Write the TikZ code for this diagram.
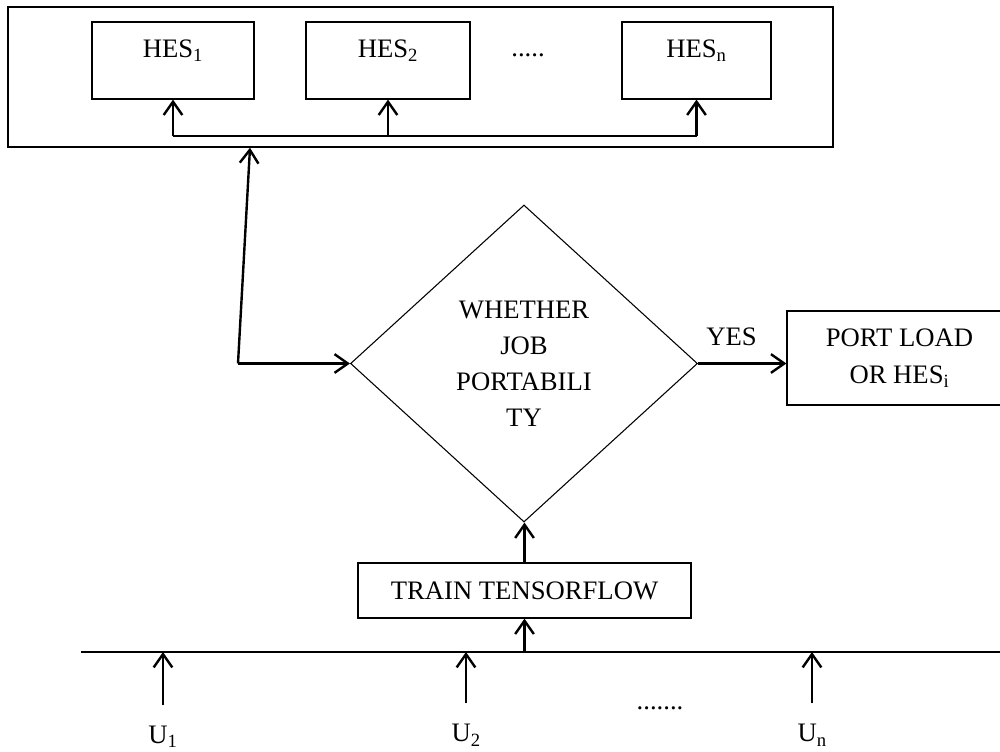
\documentclass[tikz,border=0pt]{standalone}
\usepackage{fontspec}
\setmainfont{Liberation Serif}
\usetikzlibrary{arrows.meta,shapes.geometric,positioning}

\tikzset{
  box/.style={draw, line width=0.9pt, inner sep=0pt},
  txt/.style={inner sep=0pt, font=\fontsize{20}{24}\selectfont},
  arr/.style={line width=1.8pt, -{Straight Barb[length=10pt,width=14pt]}},
  bus/.style={line width=1.8pt},
}

\begin{document}
\begin{tikzpicture}[x=0.75pt,y=0.75pt,yscale=-1,xscale=1]
    \useasboundingbox (0,0) rectangle (1000,751);

    %HES group [outer box]
    \node [box, line width=1.1pt, minimum width=618.75pt, minimum height=105pt] (hesgroup) at (420.5,77) {};
    \node [box, minimum width=121.5pt, minimum height=57.75pt] (hes1) at (173,60.5) {};
    \node [box, minimum width=123pt, minimum height=57.75pt] (hes2) at (388,60.5) {};
    \node [box, minimum width=111.75pt, minimum height=57.75pt] (hesn) at (696.5,60.5) {};
    % Text Node
    \node [txt] (hes1txt) at (173,51) {HES\textsubscript{1}};
    % Text Node
    \node [txt] (hes2txt) at (388,51) {HES\textsubscript{2}};
    % Text Node
    \node [txt] (hesntxt) at (696.5,51) {HES\textsubscript{n}};
    % Text Node
    \node [txt] (dotstop) at (528,55) {.....};

    %Decision
    \node [diamond, draw, line width=0.8pt, inner sep=0pt, minimum width=260.25pt, minimum height=237.75pt, align=center, font=\fontsize{20}{27}\selectfont] (whether) at (524,363.5) {WHETHER\\JOB\\PORTABILI\\TY};
    \node [box, txt, align=center, font=\fontsize{20}{28}\selectfont, minimum width=168.75pt, minimum height=70.5pt] (port) at (899.5,358) {PORT LOAD\\OR HES\textsubscript{i}};
    \node [box, txt, minimum width=249.75pt, minimum height=41.25pt] (train) at (524.5,590.5) {TRAIN TENSORFLOW};

    %Users
    \node [txt, anchor=base] (u1) at (163,743) {U\textsubscript{1}};
    \node [txt, anchor=base] (u2) at (466,741) {U\raisebox{-4pt}{\fontsize{14}{14}\selectfont 2}};
    \node [txt, anchor=base] (un) at (812,741) {U\raisebox{-4pt}{\fontsize{14}{14}\selectfont n}};
    % Text Node
    \node [txt] (dotsbot) at (660,708) {.......};

    \coordinate (topbus) at (0,136);
    \coordinate (fork) at (238,363.5);
    \coordinate (hesin) at (250,0);
    \coordinate (busL) at (81,652);
    \coordinate (busR) at (1000,652);

    %Straight Lines [top bus]
    \draw [bus] (hes1.south |- topbus) -- (hesn.south |- topbus);
    \draw [arr] (hes1.south |- topbus) -- (hes1.south);
    \draw [arr] (hes2.south |- topbus) -- (hes2.south);
    \draw [arr] (hesn.south |- topbus) -- (hesn.south);
    %Straight Lines [fork]
    \draw [arr] (fork) -- (hesgroup.south -| hesin);
    \draw [arr] (fork) -- (whether.west);
    %Straight Lines [yes]
    \draw [arr] (whether.east) -- (port.west |- whether.east) node [txt, above=12.75pt, pos=0.38] (yes) {YES};
    %Straight Lines [train]
    \draw [arr] (train.north) -- (train.north |- whether.south);
    %Straight Lines [bottom bus]
    \draw [bus] (busL) -- (busR);
    \draw [arr] (train.south |- busL) -- (train.south);
    \draw [arr, shorten <=15pt] (u1.north) -- (u1.north |- busL);
    \draw [arr, shorten <=15pt] (u2.north) -- (u2.north |- busL);
    \draw [arr, shorten <=15pt] (un.north) -- (un.north |- busL);
\end{tikzpicture}
\end{document}
